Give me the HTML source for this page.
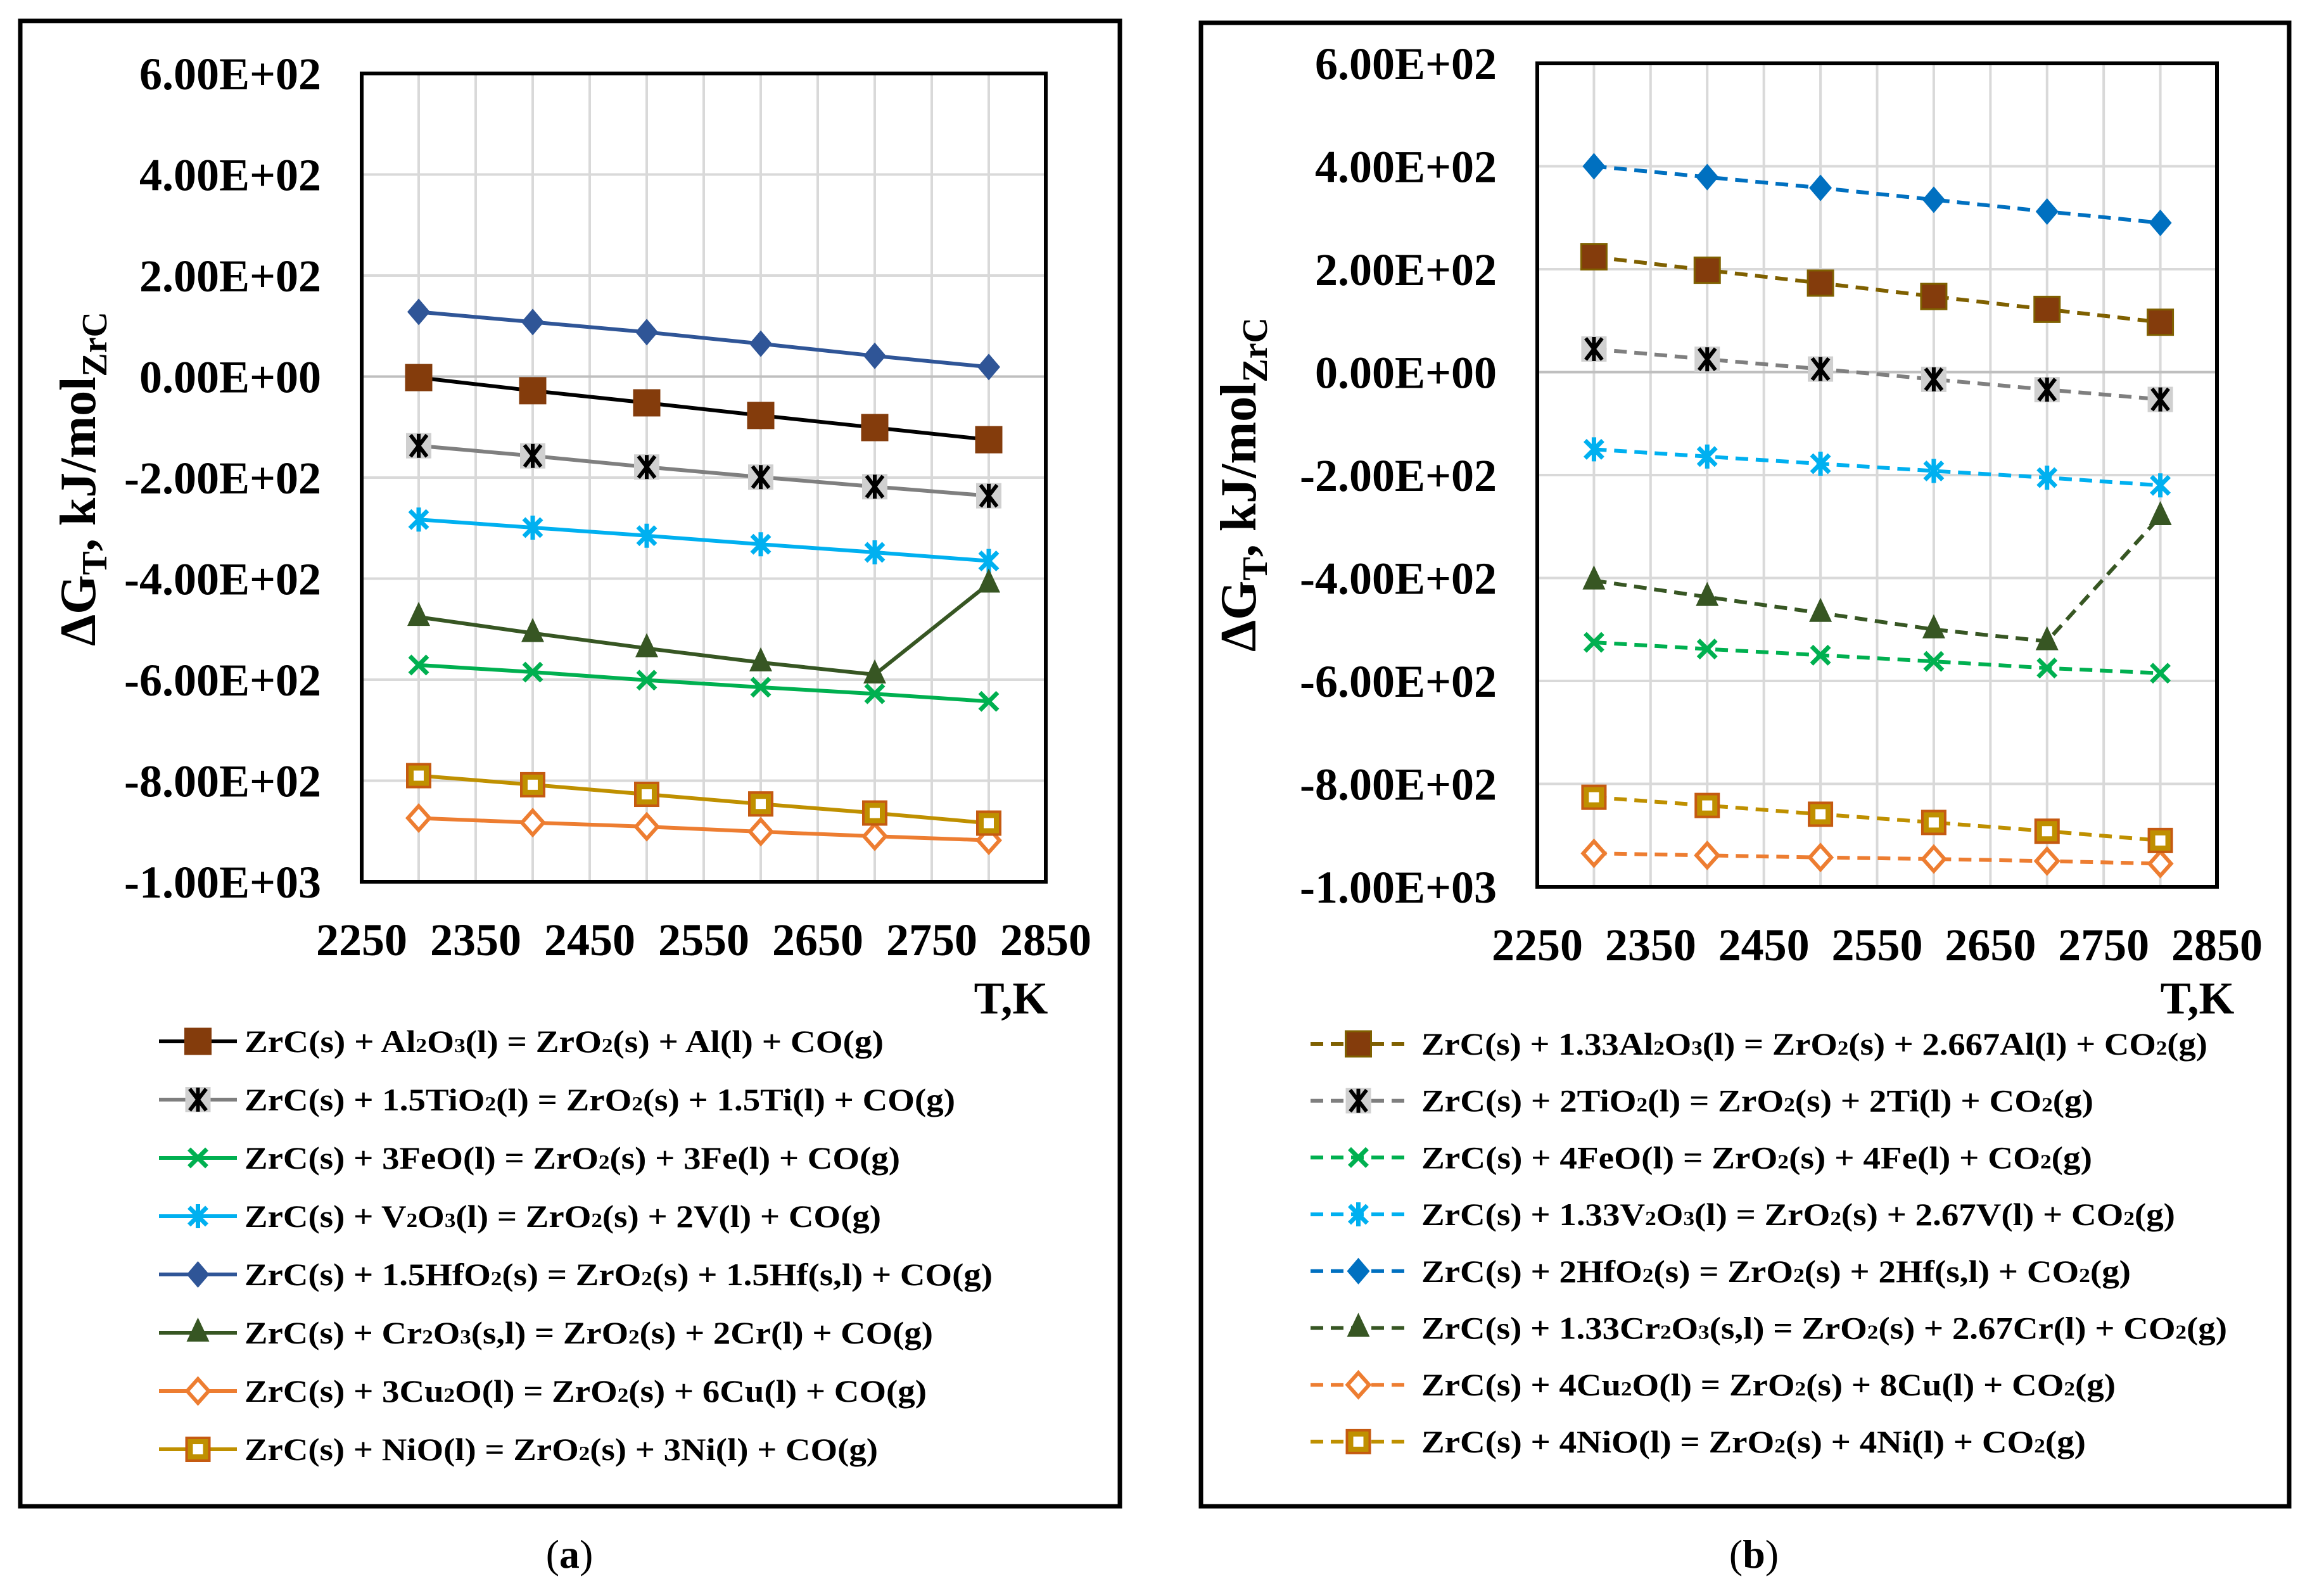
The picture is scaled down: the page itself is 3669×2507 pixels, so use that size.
<!DOCTYPE html>
<html><head><meta charset="utf-8">
<style>
html,body{margin:0;padding:0;background:#fff;}
svg{display:block;}
text{font-family:"Liberation Serif",serif;font-weight:bold;fill:#000;}
</style></head>
<body>
<svg id="fig" width="3669" height="2507" viewBox="0 0 3669 2507" xmlns="http://www.w3.org/2000/svg">
<rect x="0" y="0" width="3669" height="2507" fill="#fff"/>
<rect x="32" y="33" width="1736" height="2345" fill="none" stroke="#000" stroke-width="7"/>
<rect x="1896" y="36" width="1718" height="2342" fill="none" stroke="#000" stroke-width="7"/>
<text x="899" y="2475" font-size="64" text-anchor="middle" style="font-weight:normal">(<tspan style="font-weight:bold">a</tspan>)</text>
<text x="2769" y="2475" font-size="64" text-anchor="middle" style="font-weight:normal">(<tspan style="font-weight:bold">b</tspan>)</text>
<g id="plots"></g>
</svg>
<script>
// ---- data ----
const temps = [2300, 2400, 2500, 2600, 2700, 2800];
const xTicks = [2250, 2350, 2450, 2550, 2650, 2750, 2850];
const yTicks = [600, 400, 200, 0, -200, -400, -600, -800, -1000];
const yTickLabels = ["6.00E+02","4.00E+02","2.00E+02","0.00E+00","-2.00E+02","-4.00E+02","-6.00E+02","-8.00E+02","-1.00E+03"];
// panel (a)
const aAl = [-2, -28, -52, -77, -101, -125];
const aTi = [-137, -157, -179, -199, -218, -236];
const aFe = [-571, -585, -601, -615, -628, -643];
const aV  = [-283, -299, -315, -332, -348, -365];
const aHf = [128, 108, 88, 65, 41, 19];
const aCr = [-476, -508, -538, -566, -590, -410];
const aCu = [-874, -883, -891, -901, -910, -918];
const aNi = [-790, -808, -827, -846, -864, -884];
// panel (b)
const bAl = [224, 198, 173, 147, 122, 97];
const bTi = [45, 25, 6, -14, -34, -53];
const bFe = [-525, -538, -550, -562, -575, -585];
const bV  = [-150, -164, -178, -192, -205, -220];
const bHf = [400, 379, 358, 335, 312, 290];
const bCr = [-405, -437, -468, -500, -523, -280];
const bCu = [-935, -939, -943, -946, -950, -955];
const bNi = [-826, -842, -859, -875, -892, -910];

const legendA = [
 ['ZrC(s) + Al','2','O','3','(l) = ZrO','2','(s) + Al(l) + CO(g)'],
 ['ZrC(s) + 1.5TiO','2','(l) = ZrO','2','(s) + 1.5Ti(l) + CO(g)'],
 ['ZrC(s) + 3FeO(l) = ZrO','2','(s) + 3Fe(l) + CO(g)'],
 ['ZrC(s) + V','2','O','3','(l) = ZrO','2','(s) + 2V(l) + CO(g)'],
 ['ZrC(s) + 1.5HfO','2','(s) = ZrO','2','(s) + 1.5Hf(s,l) + CO(g)'],
 ['ZrC(s) + Cr','2','O','3','(s,l) = ZrO','2','(s) + 2Cr(l) + CO(g)'],
 ['ZrC(s) + 3Cu','2','O(l) = ZrO','2','(s) + 6Cu(l) + CO(g)'],
 ['ZrC(s) + NiO(l) = ZrO','2','(s) + 3Ni(l) + CO(g)']
];
const legendB = [
 ['ZrC(s) + 1.33Al','2','O','3','(l) = ZrO','2','(s) + 2.667Al(l) + CO','2','(g)'],
 ['ZrC(s) + 2TiO','2','(l) = ZrO','2','(s) + 2Ti(l) + CO','2','(g)'],
 ['ZrC(s) + 4FeO(l) = ZrO','2','(s) + 4Fe(l) + CO','2','(g)'],
 ['ZrC(s) + 1.33V','2','O','3','(l) = ZrO','2','(s) + 2.67V(l) + CO','2','(g)'],
 ['ZrC(s) + 2HfO','2','(s) = ZrO','2','(s) + 2Hf(s,l) + CO','2','(g)'],
 ['ZrC(s) + 1.33Cr','2','O','3','(s,l) = ZrO','2','(s) + 2.67Cr(l) + CO','2','(g)'],
 ['ZrC(s) + 4Cu','2','O(l) = ZrO','2','(s) + 8Cu(l) + CO','2','(g)'],
 ['ZrC(s) + 4NiO(l) = ZrO','2','(s) + 4Ni(l) + CO','2','(g)']
];
const legendWidthsA = [1009,1122,1035,1005,1181,1087,1077,1000];
const legendWidthsB = [1241,1061,1059,1190,1120,1272,1096,1049];

const NS = "http://www.w3.org/2000/svg";
function mk(tag, attrs, parent){
  const e = document.createElementNS(NS, tag);
  for (const k in attrs) e.setAttribute(k, attrs[k]);
  parent.appendChild(e);
  return e;
}
const root = document.getElementById('plots');

function marker(g, kind, cx, cy, col, edge){
  const s = 20;
  if (kind==='square'){
    mk('rect',{x:cx-s,y:cy-s,width:2*s,height:2*s,fill:'#843C0C',stroke:edge,'stroke-width':3},g);
  } else if (kind==='xstar'){
    mk('rect',{x:cx-s,y:cy-s,width:2*s,height:2*s,fill:'#d0d0d0'},g);
    mk('path',{d:`M${cx-13},${cy-17}L${cx+13},${cy+17}M${cx+13},${cy-17}L${cx-13},${cy+17}M${cx},${cy-19}V${cy+19}`,stroke:'#000','stroke-width':6,fill:'none'},g);
  } else if (kind==='x'){
    mk('path',{d:`M${cx-14},${cy-14}L${cx+14},${cy+14}M${cx+14},${cy-14}L${cx-14},${cy+14}`,stroke:col,'stroke-width':7,fill:'none'},g);
  } else if (kind==='star'){
    mk('path',{d:`M${cx-14},${cy-14}L${cx+14},${cy+14}M${cx+14},${cy-14}L${cx-14},${cy+14}M${cx},${cy-19}V${cy+19}`,stroke:col,'stroke-width':7,fill:'none'},g);
  } else if (kind==='diamond'){
    mk('path',{d:`M${cx},${cy-21}L${cx+18},${cy}L${cx},${cy+21}L${cx-18},${cy}Z`,fill:col},g);
  } else if (kind==='tri'){
    mk('path',{d:`M${cx},${cy-24}L${cx+18},${cy+14}L${cx-18},${cy+14}Z`,fill:col},g);
  } else if (kind==='hdiamond'){
    mk('path',{d:`M${cx},${cy-19}L${cx+17},${cy}L${cx},${cy+19}L${cx-17},${cy}Z`,fill:'#fff',stroke:col,'stroke-width':6},g);
  } else if (kind==='nisq'){
    mk('rect',{x:cx-18,y:cy-18,width:36,height:36,fill:'#BF9000',stroke:'#C55A11','stroke-width':4},g);
    mk('rect',{x:cx-8,y:cy-8,width:16,height:16,fill:'#fff'},g);
  }
}

function panel(cfg){
  const g = mk('g',{},root);
  
  
  const xs = t => cfg.left + (t-2250)/600*(cfg.right-cfg.left);
  const ys = v => cfg.top + (600-v)/1600*(cfg.bottom-cfg.top);
  // grid
  for (let t=2300;t<2850;t+=50){
    const l = mk('line',{x1:xs(t),x2:xs(t),y1:cfg.top,y2:cfg.bottom,stroke:'#d9d9d9','stroke-width':4},g);
    
    
  }
  yTicks.forEach((v,i)=>{
    if (v!==600 && v!==-1000){
      const l = mk('line',{x1:cfg.left,x2:cfg.right,y1:ys(v),y2:ys(v),stroke:v===0?'#bfbfbf':'#d9d9d9','stroke-width':4},g);
      
      
    }
    const tx = mk('text',{x:cfg.left-64,y:ys(v)+25,'font-size':72,'text-anchor':'end'},g);
    tx.textContent = yTickLabels[i];
    
    
  });
  xTicks.forEach(t=>{
    const tx = mk('text',{x:xs(t),y:cfg.xLabelY,'font-size':72,'text-anchor':'middle'},g);
    tx.textContent = t;
    
    
  });
  const frame = mk('rect',{x:cfg.left,y:cfg.top,width:cfg.right-cfg.left,height:cfg.bottom-cfg.top,fill:'none',stroke:'#000','stroke-width':6},g);
  
  
  const xt = mk('text',{x:cfg.xTitleX,y:cfg.xTitleY,'font-size':72,'text-anchor':'middle'},g);
  xt.textContent = 'T,K';
  
  
  const yt = mk('text',{x:0,y:0,'font-size':80,'text-anchor':'middle',transform:`translate(${cfg.yTitleX},${cfg.yTitleY}) rotate(-90)`},g);
  yt.innerHTML = '\u0394G<tspan font-size="56" dy="18">T</tspan><tspan dy="-18">, kJ/mol</tspan><tspan font-size="56" dy="18">ZrC</tspan>';
  
  

  cfg.series.forEach((s,si)=>{
    const sg = mk('g',{},g);
    
    
    const pts = temps.map((t,i)=>xs(t)+','+ys(s.data[i])).join(' ');
    const line = mk('polyline',{points:pts,fill:'none',stroke:s.line,'stroke-width':6,'stroke-dasharray':cfg.dash?'20,12':'none'},sg);
    
    
    temps.forEach((t,i)=>{
      const mg = mk('g',{},sg);
      
      
      marker(mg, s.kind, xs(t), ys(s.data[i]), s.mcol, s.edge);
    });
    // legend
    const ly = cfg.legY0 + si*cfg.legDy;
    const lg = mk('g',{},g);
    
    
    mk('line',{x1:cfg.legX1,x2:cfg.legX2,y1:ly,y2:ly,stroke:s.line,'stroke-width':6,'stroke-dasharray':cfg.dash?'20,12':'none'},lg);
    marker(lg, s.kind, (cfg.legX1+cfg.legX2)/2, ly, s.mcol, s.edge);
    const lt = mk('text',{x:cfg.legTX,y:ly+17,'font-size':50,textLength:cfg.legW[si],lengthAdjust:'spacingAndGlyphs'},lg);
    cfg.legend[si].forEach((part,pi)=>{
      const ts = mk('tspan',{},lt);
      if (part==='2'||part==='3'){ ts.setAttribute('font-size','32'); }
      ts.textContent = part;
    });
    
    
  });
}

panel({name:'chart-a',left:571,right:1651,top:116,bottom:1392,dash:false,xLabelY:1508,
  xTitleX:1596,xTitleY:1600,yTitleX:150,yTitleY:756,
  legY0:1644,legDy:92,legX1:251,legX2:374,legTX:386,legW:legendWidthsA,legend:legendA,
  series:[
   {key:'al',data:aAl,line:'#000',kind:'square',mcol:'#843C0C',edge:'#843C0C'},
   {key:'ti',data:aTi,line:'#7F7F7F',kind:'xstar',mcol:'#000'},
   {key:'fe',data:aFe,line:'#00B050',kind:'x',mcol:'#00B050'},
   {key:'v',data:aV,line:'#00B0F0',kind:'star',mcol:'#00B0F0'},
   {key:'hf',data:aHf,line:'#2F5597',kind:'diamond',mcol:'#2F5597'},
   {key:'cr',data:aCr,line:'#375623',kind:'tri',mcol:'#375623'},
   {key:'cu',data:aCu,line:'#ED7D31',kind:'hdiamond',mcol:'#ED7D31'},
   {key:'ni',data:aNi,line:'#BF9000',kind:'nisq',mcol:'#BF9000'}
  ]});
panel({name:'chart-b',left:2427,right:3500,top:100,bottom:1400,dash:true,xLabelY:1516,
  xTitleX:3469,xTitleY:1600,yTitleX:1982,yTitleY:765,
  legY0:1648,legDy:89.7,legX1:2069,legX2:2220,legTX:2244,legW:legendWidthsB,legend:legendB,
  series:[
   {key:'al',data:bAl,line:'#7F6000',kind:'square',mcol:'#843C0C',edge:'#7F6000'},
   {key:'ti',data:bTi,line:'#7F7F7F',kind:'xstar',mcol:'#000'},
   {key:'fe',data:bFe,line:'#00B050',kind:'x',mcol:'#00B050'},
   {key:'v',data:bV,line:'#00B0F0',kind:'star',mcol:'#00B0F0'},
   {key:'hf',data:bHf,line:'#0070C0',kind:'diamond',mcol:'#0070C0'},
   {key:'cr',data:bCr,line:'#375623',kind:'tri',mcol:'#375623'},
   {key:'cu',data:bCu,line:'#ED7D31',kind:'hdiamond',mcol:'#ED7D31'},
   {key:'ni',data:bNi,line:'#BF9000',kind:'nisq',mcol:'#BF9000'}
  ]});
</script>
</body></html>
